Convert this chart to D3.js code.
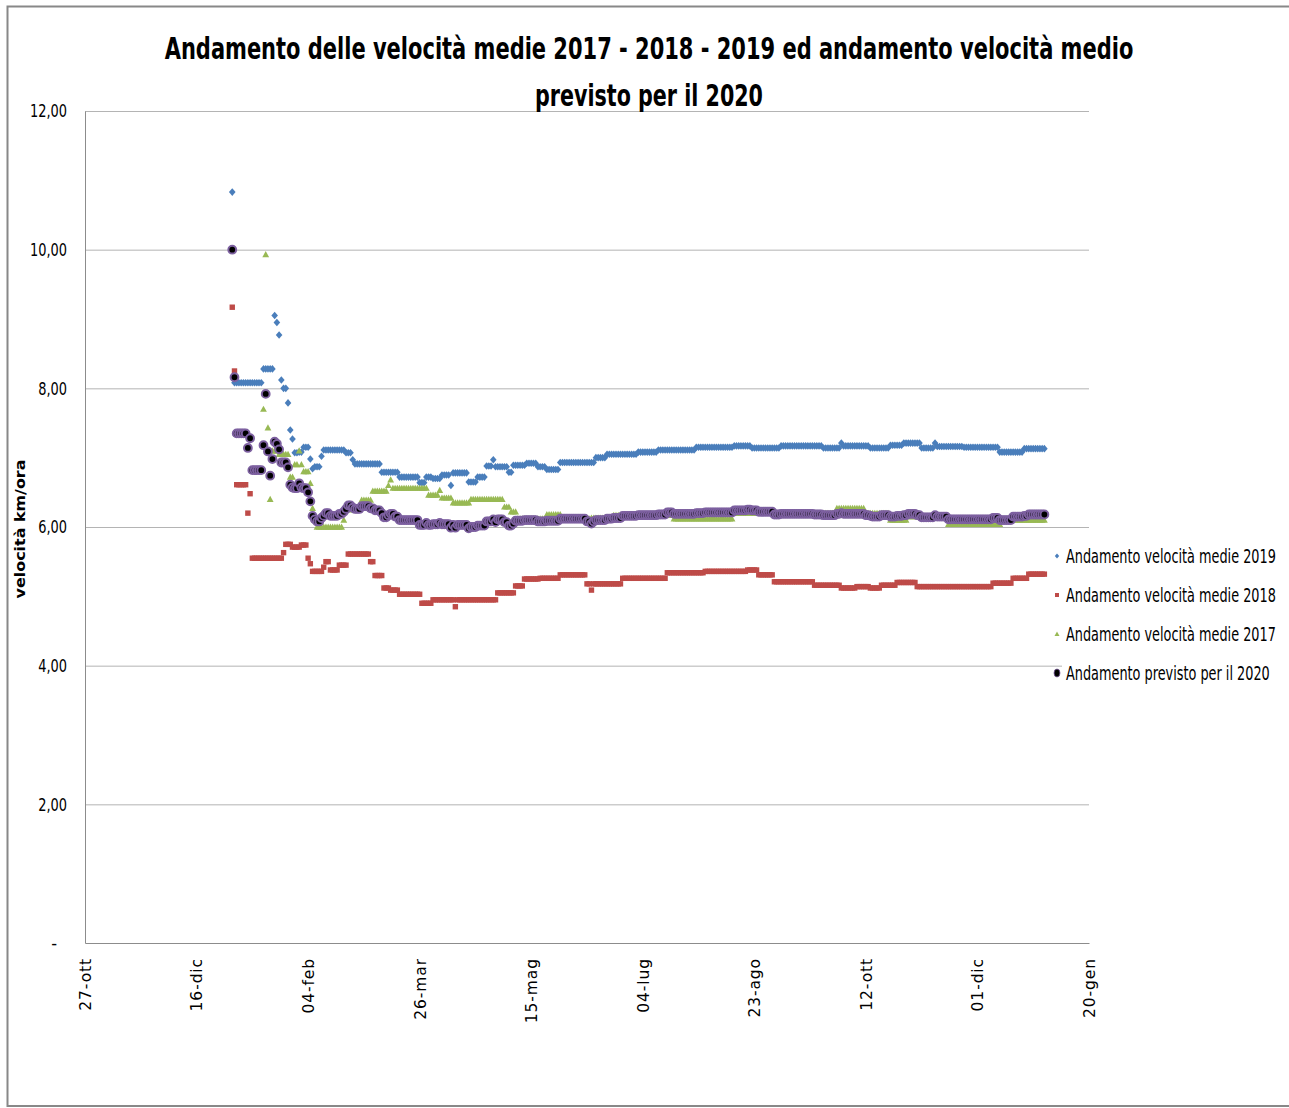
<!DOCTYPE html>
<html>
<head>
<meta charset="utf-8">
<script src="https://cdn.jsdelivr.net/npm/d3@7"></script>
<style>
  body { margin: 0; background: #fff; }
  text { fill: #000; }
</style>
</head>
<body>
<svg id="chart" width="1289" height="1108"></svg>
<script>
// daily values from 1 Jan, written as runs of [value, days]
const runs2019 = [[10.83,1],[8.08,13],[8.28,5],[9.05,1],[8.95,1],[8.77,1],[8.12,1],[8.0,2],[7.79,1],[7.4,1],[7.27,1],
  [7.07,2],[7.08,2],[7.15,3],[6.98,1],[6.84,1],[6.87,3],[7.02,1],[7.11,10],[7.07,3],[6.97,1],[6.91,12],[6.79,8],
  [6.72,9],[6.64,3],[6.72,3],[6.7,4],[6.75,4],[6.6,1],[6.78,7],[6.65,4],[6.72,4],[6.88,3],[6.97,1],[6.87,6],[6.79,2],
  [6.89,6],[6.92,5],[6.87,4],[6.83,6],[6.93,16],[7.0,5],[7.05,14],[7.08,9],[7.11,17],[7.15,17],[7.17,8],[7.14,13],
  [7.17,19],[7.14,8],[7.21,1],[7.17,12],[7.14,9],[7.18,6],[7.21,8],[7.14,6],[7.21,1],[7.16,12],[7.15,16],[7.08,11],[7.13,10]];

const runs2018 = [[9.17,1],[8.25,1],[6.61,5],[6.2,1],[6.48,1],[5.55,14],[5.63,1],[5.75,3],[5.71,4],[5.74,3],[5.55,1],
  [5.47,1],[5.36,5],[5.42,1],[5.5,2],[5.38,4],[5.45,4],[5.61,10],[5.5,2],[5.3,4],[5.12,3],[5.09,4],[5.03,10],[4.9,5],
  [4.95,10],[4.85,1],[4.95,18],[5.05,8],[5.15,4],[5.25,7],[5.26,9],[5.31,12],[5.18,2],[5.09,1],[5.18,13],[5.26,20],
  [5.34,17],[5.36,19],[5.38,5],[5.31,7],[5.21,18],[5.16,12],[5.12,7],[5.14,6],[5.12,5],[5.16,7],[5.2,9],[5.14,34],
  [5.19,9],[5.26,7],[5.32,8]];

const runs2017 = [[null,14],[7.7,1],[9.93,1],[7.43,1],[6.4,1],[7.1,3],[7.05,5],[6.72,2],[6.9,2],[7.1,1],[6.9,1],[6.8,3],
  [6.63,1],[6.27,1],[6.1,1],[6.0,12],[6.1,1],[6.25,7],[6.39,5],[6.52,7],[6.6,1],[6.68,1],[6.56,16],[6.46,5],[6.53,1],
  [6.42,5],[6.35,8],[6.4,15],[6.29,3],[6.22,3],[6.12,13],[6.18,7],[6.12,13],[6.13,10],[6.17,27],[6.12,27],[6.2,46],
  [6.27,13],[6.2,11],[6.1,8],[6.15,18],[6.04,24],[6.1,20]];

const runs2020 = [[10.0,1],[8.16,1],[7.35,5],[7.14,1],[7.28,1],[6.82,5],[7.18,1],[7.92,1],[7.09,1],[6.74,1],[6.98,1],
  [7.23,1],[7.2,1],[7.12,1],[6.93,3],[6.86,1],[6.61,1],[6.57,1],[6.56,2],[6.63,1],[6.57,1],[6.56,2],[6.5,1],[6.37,1],
  [6.16,1],[6.11,1],[6.08,2],[6.13,1],[6.16,1],[6.2,2],[6.16,4],[6.19,2],[6.22,1],[6.26,1],[6.31,2],[6.28,1],[6.26,3],
  [6.3,4],[6.27,2],[6.24,3],[6.2,1],[6.14,2],[6.17,1],[6.19,2],[6.15,2],[6.1,9],[6.03,3],[6.06,1],[6.03,2],[6.04,3],
  [6.06,1],[6.04,4],[5.99,1],[6.03,1],[5.99,1],[6.03,5],[5.98,1],[6.0,3],[6.02,4],[6.08,3],[6.11,1],[6.07,1],[6.11,3],
  [6.07,2],[6.02,2],[6.05,1],[6.09,4],[6.1,6],[6.08,4],[6.09,6],[6.12,12],[6.08,2],[6.05,1],[6.08,1],[6.1,5],[6.12,3],
  [6.13,4],[6.16,7],[6.17,9],[6.18,4],[6.21,3],[6.19,10],[6.2,4],[6.21,13],[6.24,6],[6.25,2],[6.24,3],[6.22,7],[6.18,3],
  [6.19,15],[6.18,4],[6.17,6],[6.19,2],[6.2,1],[6.19,10],[6.17,2],[6.16,1],[6.15,4],[6.17,4],[6.15,3],[6.16,3],[6.17,2],
  [6.19,4],[6.17,2],[6.14,6],[6.17,1],[6.15,5],[6.11,20],[6.13,3],[6.1,6],[6.15,5],[6.16,2],[6.18,8]];

const seriesNames = ["Andamento velocità medie 2019", "Andamento velocità medie 2018",
  "Andamento velocità medie 2017", "Andamento previsto per il 2020"];
const yTicks = [0, 2, 4, 6, 8, 10, 12];
const xTickDays = [0, 50, 100, 150, 200, 250, 300, 350, 400, 450];
const titleLines = ["Andamento delle velocità medie 2017 - 2018 - 2019 ed andamento velocità medio", "previsto per il 2020"];
const yTitle = "velocità km/ora";

const firstDay = new Date(Date.UTC(2019, 0, 1));
const axisStart = new Date(Date.UTC(2018, 9, 27));

const it = d3.timeFormatLocale({
  dateTime: "%A %e %B %Y, %X", date: "%d/%m/%Y", time: "%H:%M:%S", periods: ["AM", "PM"],
  days: ["domenica","lunedì","martedì","mercoledì","giovedì","venerdì","sabato"],
  shortDays: ["dom","lun","mar","mer","gio","ven","sab"],
  months: ["gennaio","febbraio","marzo","aprile","maggio","giugno","luglio","agosto","settembre","ottobre","novembre","dicembre"],
  shortMonths: ["gen","feb","mar","apr","mag","giu","lug","ago","set","ott","nov","dic"]
});
const fmtDate = it.utcFormat("%d-%b");

function expand(runs) {
  const vals = [];
  runs.forEach(([v, n]) => { for (let i = 0; i < n; i++) vals.push(v); });
  return vals.map((v, i) => ({ date: d3.utcDay.offset(firstDay, i), value: v }))
             .filter(d => d.value != null);
}

// squeeze a text horizontally (Calibri is narrower than anything installed)
function squeeze(sel, width) {
  sel.each(function() {
    const t = d3.select(this);
    const k = width / this.getComputedTextLength();
    t.attr("transform", (t.attr("transform") || "") + ` scale(${k},1)`);
  });
}

const svg = d3.select("#chart");
const plotLeft = 85, plotRight = 1089, plotTop = 111, plotBottom = 943;
const narrow = "'DejaVu Sans Condensed', 'Liberation Sans Narrow', sans-serif";

const x = d3.scaleUtc()
  .domain([axisStart, d3.utcDay.offset(axisStart, 450)])
  .range([plotLeft, plotRight]);
const y = d3.scaleLinear().domain([0, 12]).range([plotBottom, plotTop]);

// outer frame (right edge lies outside the picture)
svg.append("rect").attr("x", 7.5).attr("y", 6.5).attr("width", 1300).attr("height", 1099.5)
  .attr("fill", "#fff").attr("stroke", "#888").attr("stroke-width", 2);

// gridlines
svg.append("g").attr("transform", `translate(${plotLeft},0)`)
  .call(d3.axisLeft(y).tickValues(yTicks.filter(d => d > 0)).tickSize(-(plotRight - plotLeft)).tickFormat(""))
  .call(g => g.select(".domain").remove())
  .call(g => g.selectAll("line").attr("stroke", "#b4b4b4").attr("stroke-width", 1));

// y axis
svg.append("g").attr("transform", `translate(${plotLeft},0)`)
  .call(d3.axisLeft(y).tickValues(yTicks).tickSize(0).tickPadding(18)
    .tickFormat(d => d === 0 ? "-" : d3.format(".2f")(d).replace(".", ",")))
  .call(g => g.select(".domain").attr("stroke", "#8c8c8c"))
  .call(g => g.selectAll("text").attr("font-family", narrow).attr("font-size", 18).attr("fill", "#000"))
  .call(g => g.selectAll(".tick").filter(d => d > 0).select("text")
    .attr("transform", "translate(-18,0) scale(0.8,1)").attr("x", 0))
  .call(g => g.selectAll(".tick").filter(d => d === 0).select("text").attr("dx", -10));

// x axis
svg.append("g").attr("transform", `translate(0,${plotBottom})`)
  .call(d3.axisBottom(x).tickValues(xTickDays.map(n => d3.utcDay.offset(axisStart, n))).tickSize(0).tickFormat(fmtDate))
  .call(g => g.select(".domain").attr("stroke", "#8c8c8c"))
  .call(g => g.selectAll("text")
    .attr("font-family", "'DejaVu Sans', sans-serif").attr("font-size", 15.5).attr("letter-spacing", 0.9)
    .attr("fill", "#000").attr("text-anchor", "end")
    .attr("transform", "rotate(-90)").attr("x", -15).attr("y", 0).attr("dy", "0.35em"));

// markers
const blue = "#4a7ebb", red = "#be4b48", green = "#98b954", purple = "#7d60a0";
const diamond = "M0,-3.8L3.3,0L0,3.8L-3.3,0Z";
const triangle = "M0,-3.5L3.4,2.7L-3.4,2.7Z";

const plot = svg.append("g");

plot.append("g").selectAll("path").data(expand(runs2019)).join("path")
  .attr("d", diamond).attr("fill", blue)
  .attr("transform", d => `translate(${x(d.date)},${y(d.value)})`);

plot.append("g").selectAll("rect").data(expand(runs2018)).join("rect")
  .attr("x", d => x(d.date) - 2.7).attr("y", d => y(d.value) - 2.7)
  .attr("width", 5.4).attr("height", 5.4).attr("fill", red);

plot.append("g").selectAll("path").data(expand(runs2017)).join("path")
  .attr("d", triangle).attr("fill", green)
  .attr("transform", d => `translate(${x(d.date)},${y(d.value)})`);

plot.append("g").selectAll("circle").data(expand(runs2020)).join("circle")
  .attr("cx", d => x(d.date)).attr("cy", d => y(d.value)).attr("r", 3.9)
  .attr("fill", "#000").attr("stroke", purple).attr("stroke-width", 2);

// title
svg.append("g").selectAll("text").data(titleLines).join("text")
  .attr("transform", (d, i) => `translate(649,${59 + i * 47})`)
  .attr("text-anchor", "middle")
  .attr("font-family", narrow).attr("font-weight", "bold").attr("font-size", 31)
  .text(d => d)
  .call(sel => sel.each(function(d, i) { d3.select(this).call(squeeze, i === 0 ? 969 : 228); }));

// y title
svg.append("text")
  .attr("transform", "translate(25,529) rotate(-90)")
  .attr("text-anchor", "middle")
  .attr("font-family", "'DejaVu Sans', sans-serif").attr("font-weight", "bold").attr("font-size", 14.5)
  .text(yTitle)
  .call(squeeze, 139);

// legend
const legend = svg.append("g").attr("transform", "translate(1062,540)");
legend.append("rect").attr("width", 224).attr("height", 150).attr("fill", "#fff");
const rows = legend.selectAll("g").data(seriesNames).join("g")
  .attr("transform", (d, i) => `translate(0,${16 + i * 39})`);
rows.append("text").attr("transform", "translate(4,0)").attr("dy", "0.35em")
  .attr("font-family", narrow).attr("font-size", 19)
  .text(d => d)
  .each(function(d, i) { d3.select(this).call(squeeze, i === 3 ? 204 : 210); });
rows.filter((d, i) => i === 0).append("path").attr("d", "M0,-2.6L2.2,0L0,2.6L-2.2,0Z").attr("fill", blue).attr("transform", "translate(-5,0)");
rows.filter((d, i) => i === 1).append("rect").attr("x", -7).attr("y", -2).attr("width", 4).attr("height", 4).attr("fill", red);
rows.filter((d, i) => i === 2).append("path").attr("d", "M0,-2.5L2.5,2L-2.5,2Z").attr("fill", green).attr("transform", "translate(-5,0)");
rows.filter((d, i) => i === 3).append("ellipse").attr("cx", -5).attr("cy", 0).attr("rx", 3).attr("ry", 4)
  .attr("fill", "#000").attr("stroke", purple).attr("stroke-width", 0.8);
</script>
</body>
</html>
